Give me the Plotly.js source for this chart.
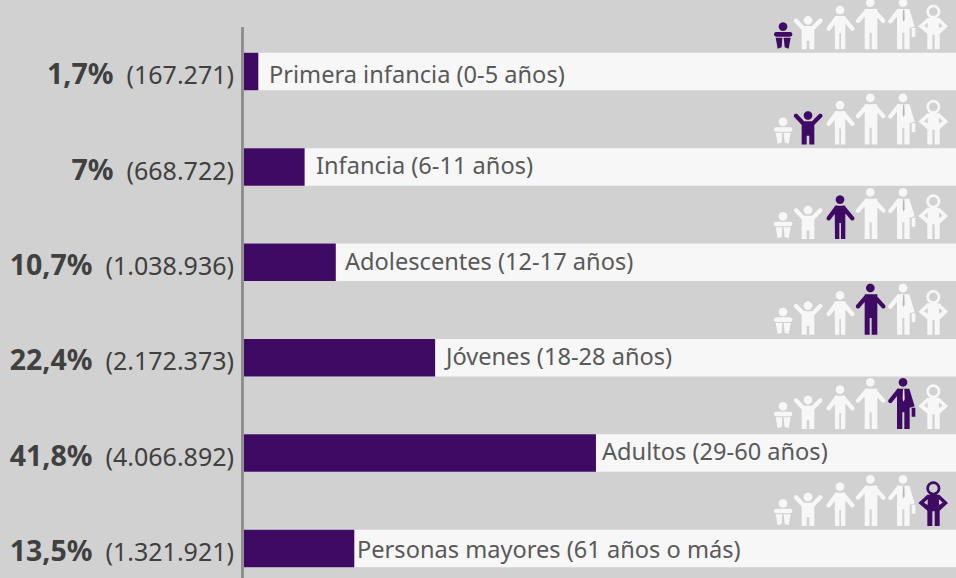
<!DOCTYPE html>
<html><head><meta charset="utf-8">
<script src="https://cdn.plot.ly/plotly-3.0.1.min.js"></script>
<style>html,body{margin:0;padding:0;background:#d1d1d1;overflow:hidden}#c{width:956px;height:578px}</style>
</head><body><div id="c"></div>
<script>
// ---- data ----
const categories = ["Primera infancia (0-5 años)","Infancia (6-11 años)","Adolescentes (12-17 años)","Jóvenes (18-28 años)","Adultos (29-60 años)","Personas mayores (61 años o más)"];
const percentLabels = ["1,7%","7%","10,7%","22,4%","41,8%","13,5%"];
const countLabels = ["(167.271)","(668.722)","(1.038.936)","(2.172.373)","(4.066.892)","(1.321.921)"];
// bar lengths as drawn in the picture (percent scale, the picture's bars differ slightly from their labels)
const barValues = [1.7,7.2,10.9,22.7,41.8,13.1];
const trackValues = [84.7,84.7,84.7,84.7,84.7,84.7];

// ---- style / layout ----
const FONT = "'Noto Sans', Lato, sans-serif";
const PURPLE="#3e0a64", LIGHT="#f7f7f7", BG="#d1d1d1";
const W=956,H=578,ML=244,MT=27;
const labelGaps=[9,9,7,7,4,1];
const labelShift=[-2,2,1,2,2,0];
const iconBase=[49.3,144.5,239,334.7,429,526];

const px2x=p=>(p-ML)/(W-ML), py2y=p=>(H-p)/(H-MT);
function area(p){let a=0;for(let i=0;i<p.length;i++){const q=p[(i+1)%p.length];a+=p[i][0]*q[1]-q[0]*p[i][1];}return a;}
const orient=(p,hole)=>((area(p)>0)!==!!hole)?p:p.slice().reverse();
function circ(cx,cy,r,hole){const p=[];for(let i=0;i<24;i++){const t=i/24*2*Math.PI;p.push([cx+r*Math.cos(t),cy+r*Math.sin(t)]);}return orient(p,hole);}
function poly(pts){return orient(pts);}
function seg(x1,y1,x2,y2,w){const dx=x2-x1,dy=y2-y1,l=Math.hypot(dx,dy),nx=-dy/l*w/2,ny=dx/l*w/2;
  return [orient([[x1+nx,y1+ny],[x2+nx,y2+ny],[x2-nx,y2-ny],[x1-nx,y1-ny]]),circ(x1,y1,w/2),circ(x2,y2,w/2)];}
// glyphs in 3x zoom units, origin x=760px, baseline y=148 units
const glyphs=[
 ()=>[circ(69,80,13),...seg(49,103,90,103,14),poly([[47,113],[67,113],[65,142],[53,146]]),poly([[71,113],[92,113],[86,146],[74,142]])],
 ()=>[circ(144,61,13),...seg(108,62,132,87,13),...seg(181,62,156,87,13),poly([[125,78],[163,78],[163,148],[148,148],[148,122],[140,122],[140,148],[125,148]])],
 ()=>[circ(240,30,13),...seg(230,54,206,86,13),...seg(250,54,277,86,13),poly([[224,48],[256,48],[256,148],[243,148],[243,100],[238,100],[238,148],[225,148]])],
 ()=>[circ(331,8,13),...seg(320,33,294,63,13),...seg(343,33,370,63,13),poly([[314,27],[352,27],[352,148],[335,148],[335,98],[329,98],[329,148],[314,148]])],
 ()=>[circ(429,8,13),...seg(416,33,391,64,13),poly([[411,27],[448,27],[464,80],[449,84],[449,148],[433,148],[433,98],[427,98],[427,148],[411,148]]),poly([[455,84],[466,84],[466,111],[455,111]])],
 ()=>[circ(520,35,21),circ(520,35,13,true),poly([[502,54],[538,54],[564,79],[539,102],[539,148],[524,148],[524,104],[517,104],[517,148],[502,148],[502,102],[475,79]])]
];
const holes=[null,null,null,null,null,()=>[[[498,72],[503,68],[503,85],[492,78]],[[542,72],[537,68],[537,85],[548,78]]]];
function pathOf(subs,base){return subs.map(p=>"M"+p.map(q=>px2x(760+q[0]/3).toFixed(5)+","+py2y(base+(q[1]-148)/3).toFixed(5)).join("L")+"Z").join(" ");}
const shapes=[];
iconBase.forEach((b,row)=>{
  glyphs.forEach((g,i)=>{
    const col=row===i?PURPLE:LIGHT;
    let subs=g();
    if(holes[i])subs=subs.concat(holes[i]().map(p=>orient(p,true)));
    shapes.push({type:"path",xref:"paper",yref:"paper",layer:"above",path:pathOf(subs,b),fillcolor:col,fillrule:"nonzero",line:{width:0}});
  });
  // tie
  shapes.push({type:"path",xref:"paper",yref:"paper",layer:"above",
    path:pathOf([poly([[429,29],[433,29],[434,58],[431,66],[428,58]])],b),
    fillcolor:row===4?"#f0f0f0":"#b5b5b5",line:{width:0}});
});

const data=[
 {type:"bar",orientation:"h",y:categories,x:trackValues,width:0.393,marker:{color:LIGHT,line:{width:0}},hoverinfo:"skip"},
 {type:"bar",orientation:"h",y:categories,x:barValues,width:0.393,marker:{color:PURPLE,line:{width:0}},hoverinfo:"skip"}
];
const layout={
 width:W,height:H,margin:{l:ML,r:0,t:MT,b:0,pad:0},
 paper_bgcolor:BG,plot_bgcolor:BG,barmode:"overlay",showlegend:false,
 font:{family:FONT},
 xaxis:{range:[0,84.56],visible:false,fixedrange:true},
 yaxis:{type:"category",range:[5.309,-0.4665],tickmode:"array",tickvals:categories,
   ticktext:categories.map((c,i)=>`<b><span style="font-size:28.5px">${percentLabels[i]}</span></b>\u00a0 ${countLabels[i]}`),
   showline:true,linecolor:"#8f8f8f",linewidth:3,showgrid:false,zeroline:false,
   ticks:"outside",ticklen:2,tickcolor:"rgba(0,0,0,0)",ticklabelshift:-4,
   tickfont:{family:FONT,size:25,color:"#404040"},fixedrange:true},
 shapes:shapes,
 annotations:categories.map((c,i)=>({xref:"x",yref:"y",x:barValues[i],y:c,text:c,showarrow:false,xanchor:"left",yanchor:"middle",
   xshift:labelGaps[i],yshift:labelShift[i],font:{family:FONT,size:23.6,color:"#595959"}}))
};
Plotly.newPlot("c",data,layout,{displayModeBar:false,staticPlot:true});
</script></body></html>
